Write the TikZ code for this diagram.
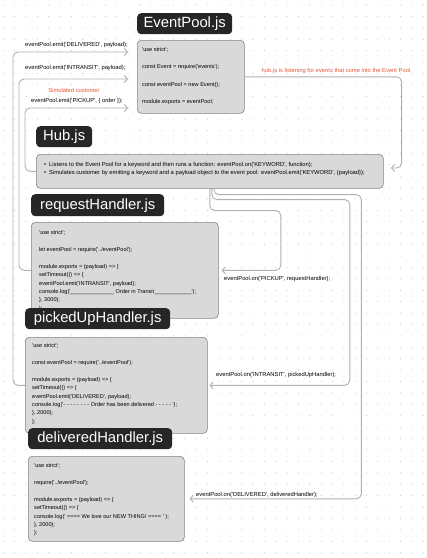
\documentclass[tikz,border=0pt]{standalone}
\usepackage{fontspec}
\newfontfamily\uif{Liberation Sans}
\usetikzlibrary{arrows.meta,calc,backgrounds}
\definecolor{boxgray}{HTML}{D9D9D9}
\definecolor{boxedge}{HTML}{858585}
\definecolor{titlebg}{HTML}{262626}
\definecolor{wire}{HTML}{B0B0B0}
\definecolor{note}{HTML}{E8553A}
\definecolor{griddot}{HTML}{C8C8C8}
\begin{document}
\begin{tikzpicture}[x=1pt,y=-1pt,
  title/.style={fill=titlebg, rounded corners=4pt, text=white, font=\uif\fontsize{14.8}{16}\selectfont, inner sep=0pt, minimum height=21pt, anchor=north west},
  codebox/.style={fill=boxgray, draw=boxedge, line width=0.6pt, rounded corners=4pt, anchor=north west, inner sep=0pt},
  code/.style={font=\uif\fontsize{5.6}{8.4}\selectfont, align=left, anchor=north west, inner sep=0pt},
  lbl/.style={font=\uif\fontsize{5.8}{7}\selectfont, inner sep=0pt, anchor=base west},
  redlbl/.style={lbl, text=note},
  wirepath/.style={draw=wire, line width=0.9pt, rounded corners=5pt, -{Straight Barb[length=3pt,width=7pt]}},
]
\useasboundingbox (0,0) rectangle (427,558);

% titles and boxes
\node[title, minimum width=95pt] (epT) at (137,13) {EventPool.js};
\node[codebox, minimum width=107pt, minimum height=73pt] (ep) at (137,40) {};
\node[code, font=\uif\fontsize{5.6}{8.6}\selectfont] (epC) at (142,47.5) {'use strict';\\[8.6pt]const Event = require('events');\\[8.6pt]const eventPool = new Event();\\[8.6pt]module.exports = eventPool;};

\node[title, minimum width=56pt] (hubT) at (36,126) {Hub.js};
\node[codebox, minimum width=347pt, minimum height=34pt] (hub) at (36,154) {};
\node[lbl] (hb1) at (44,166) {•\hspace{3pt}Listens to the Event Pool for a keyword and then runs a function: eventPool.on('KEYWORD', function);};
\node[lbl] (hb2) at (44,174) {•\hspace{3pt}Simulates customer by emitting a keyword and a payload object to the event pool: eventPool.emit('KEYWORD', \{payload\});};

\node[title, minimum width=133pt, minimum height=22pt] (rhT) at (31,194) {requestHandler.js};
\node[codebox, minimum width=187pt, minimum height=96pt] (rh) at (31,222) {};
\node[code] (rhC) at (39,230.5) {'use strict';\\[8.4pt]let eventPool = require('../eventPool');\\[8.4pt]module.exports = (payload) => \{\\setTimeout(() => \{\\eventPool.emit('INTRANSIT', payload);\\console.log('\_\_\_\_\_\_\_\_\_\_\_\_\_\_ Order in Transit\_\_\_\_\_\_\_\_\_\_\_\_');\\\}, 3000);\\\};};

\node[title, minimum width=145pt] (puT) at (25,308) {pickedUpHandler.js};
\node[codebox, minimum width=182pt, minimum height=96pt] (pu) at (25,337) {};
\node[code] (puC) at (32,343.5) {'use strict';\\[8.4pt]const eventPool = require('../eventPool');\\[8.4pt]module.exports = (payload) => \{\\setTimeout(() => \{\\eventPool.emit('DELIVERED', payload);\\console.log('- - - - - - - - Order has been delivered - - - - - ');\\\}, 2000);\\\};};

\node[title, minimum width=144pt] (dhT) at (28,428) {deliveredHandler.js};
\node[codebox, minimum width=156pt, minimum height=85pt] (dh) at (28,456) {};
\node[code] (dhC) at (34,463.5) {'use strict';\\[8.4pt]require('../eventPool');\\[8.4pt]module.exports = (payload) => \{\\setTimeout(() => \{\\console.log(' ==== We love our NEW THING! ==== ' );\\\}, 2000);\\\};};

% labels
\node[lbl] (lDel) at (25,46) {eventPool.emit('DELIVERED', payload);};
\node[lbl] (lInt) at (25,69) {eventPool.emit('INTRANSIT', payload);};
\node[redlbl, anchor=base] (lSim) at (74,92) {Simulated customer};
\node[lbl] (lPick) at (31,102) {eventPool.emit('PICKUP', \{ order \});};
\node[redlbl, anchor=base] (lHub) at (336,72) {hub.js is listening for events that come into the Event Pool};
\node[lbl] (oPick) at (224,280) {eventPool.on('PICKUP', requestHandler);};
\node[lbl] (oInt) at (216,376) {eventPool.on('INTRANSIT', pickedUpHandler);};
\node[lbl] (oDel) at (196,496) {eventPool.on('DELIVERED', deliveredHandler);};

% connector ends
\coordinate (dIn) at (128,52);
\coordinate (iIn) at (128,79);
\coordinate (pIn) at (128,108);
\coordinate (hIn) at (391,168);
\coordinate (aIn) at ($(rh.east)+(3,0)$);
\coordinate (bIn) at ($(pu.east)+(2,0)$);
\coordinate (cIn) at ($(dh.east)+(5,0)$);

\begin{pgfonlayer}{background}
\fill[white] (0,0) rectangle (427,558);
\foreach \i in {0,...,37}{
  \foreach \j in {0,...,48}{
    \fill[griddot] (3.3+\i*11.35, 5+\j*11.41) circle (0.55);
  }
}
\draw[wirepath] (pu.west) -- ++(-12,0) |- (dIn);
\draw[wirepath] (rh.west) -- ++(-12,0) |- (iIn);
\draw[wirepath] (hub.west) -- ++(-11,0) |- (pIn);
\draw[wirepath] (ep.east) -- ++(157,0) |- (hIn);
\draw[wirepath] (hub.south) -- ++(0,22) -- ++(71,0) |- (aIn);
\draw[wirepath] ($(hub.south)+(2,0)$) -- ++(0,11) -- ++(138,0) |- (bIn);
\draw[wirepath] ($(hub.south)+(4,0)$) -- ++(0,6) -- ++(147.5,0) |- (cIn);
\end{pgfonlayer}
\end{tikzpicture}
\end{document}
